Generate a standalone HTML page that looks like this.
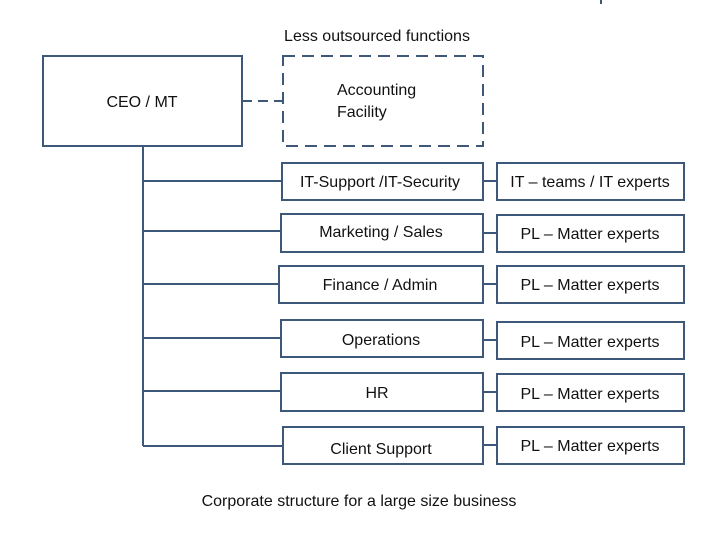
<!DOCTYPE html>
<html><head><meta charset="utf-8"><style>
body{margin:0;background:#fff;}
svg{display:block}
text{font-family:"Liberation Sans",sans-serif;font-size:16px;fill:#111;}
</style></head><body>
<svg width="720" height="540" viewBox="0 0 720 540">
<g fill="none" stroke="#3d5878" stroke-width="2">
<line x1="601" y1="0" x2="601" y2="4"/>
<rect x="43" y="56" width="199" height="90"/>
<rect x="283" y="56" width="200" height="90" stroke-dasharray="12,7"/>
<line x1="242" y1="101" x2="283" y2="101" stroke-dasharray="10,6"/>
<line x1="143" y1="146" x2="143" y2="446"/>
<line x1="143" y1="181" x2="282" y2="181"/>
<line x1="143" y1="231" x2="281" y2="231"/>
<line x1="143" y1="284" x2="279" y2="284"/>
<line x1="143" y1="338" x2="281" y2="338"/>
<line x1="143" y1="391" x2="281" y2="391"/>
<line x1="143" y1="446" x2="283" y2="446"/>
<rect x="282" y="163" width="201" height="37"/>
<rect x="281" y="214" width="202" height="38"/>
<rect x="279" y="266" width="204" height="37"/>
<rect x="281" y="320" width="202" height="37"/>
<rect x="281" y="373" width="202" height="38"/>
<rect x="283" y="427" width="200" height="37"/>
<rect x="497" y="163" width="187" height="37"/>
<rect x="497" y="215" width="187" height="37"/>
<rect x="497" y="266" width="187" height="37"/>
<rect x="497" y="322" width="187" height="37"/>
<rect x="497" y="374" width="187" height="37"/>
<rect x="497" y="427" width="187" height="37"/>
<line x1="483" y1="181" x2="497" y2="181"/>
<line x1="483" y1="233" x2="497" y2="233"/>
<line x1="483" y1="284" x2="497" y2="284"/>
<line x1="483" y1="340" x2="497" y2="340"/>
<line x1="483" y1="392" x2="497" y2="392"/>
<line x1="483" y1="445" x2="497" y2="445"/>
</g>
<text x="377" y="41" text-anchor="middle">Less outsourced functions</text>
<text x="142" y="107" text-anchor="middle">CEO / MT</text>
<text x="337" y="95">Accounting</text>
<text x="337" y="117">Facility</text>
<text x="380" y="187" text-anchor="middle">IT-Support /IT-Security</text>
<text x="381" y="237" text-anchor="middle">Marketing / Sales</text>
<text x="380" y="290" text-anchor="middle">Finance / Admin</text>
<text x="381" y="345" text-anchor="middle">Operations</text>
<text x="377" y="398" text-anchor="middle">HR</text>
<text x="381" y="454" text-anchor="middle">Client Support</text>
<text x="590" y="187" text-anchor="middle">IT – teams / IT experts</text>
<text x="590" y="239" text-anchor="middle">PL – Matter experts</text>
<text x="590" y="290" text-anchor="middle">PL – Matter experts</text>
<text x="590" y="347" text-anchor="middle">PL – Matter experts</text>
<text x="590" y="399" text-anchor="middle">PL – Matter experts</text>
<text x="590" y="451" text-anchor="middle">PL – Matter experts</text>
<text x="359" y="506" text-anchor="middle">Corporate structure for a large size business</text>
</svg>
</body></html>
